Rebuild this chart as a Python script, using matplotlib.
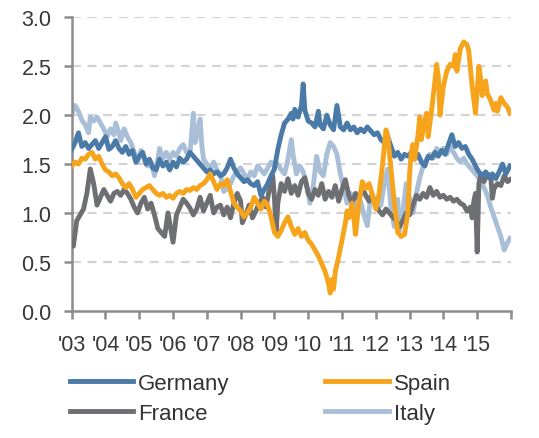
import matplotlib
matplotlib.use("Agg")
import matplotlib.pyplot as plt

plt.rcParams["font.family"] = ["Liberation Sans Narrow", "Liberation Sans", "DejaVu Sans"]

# values (time in fractional years)
germany_t = [2003.0, 2003.1, 2003.2, 2003.3, 2003.4, 2003.5, 2003.6, 2003.7, 2003.8, 2003.9,
             2004.0, 2004.1, 2004.2, 2004.3, 2004.4, 2004.5, 2004.6, 2004.7, 2004.8, 2004.9,
             2005.0, 2005.1, 2005.2, 2005.3, 2005.4, 2005.5, 2005.6, 2005.7, 2005.8, 2005.9,
             2006.0, 2006.1, 2006.2, 2006.3, 2006.4, 2006.5, 2006.6, 2006.7, 2006.8, 2006.9,
             2007.0, 2007.1, 2007.2, 2007.3, 2007.4, 2007.5, 2007.6, 2007.7, 2007.8, 2007.9,
             2008.0, 2008.1, 2008.2, 2008.3, 2008.4, 2008.5, 2008.6, 2008.7, 2008.8, 2008.9,
             2009.0, 2009.1, 2009.2, 2009.3, 2009.4, 2009.5, 2009.55, 2009.6, 2009.7, 2009.8,
             2009.85, 2009.9, 2010.0, 2010.1, 2010.2, 2010.3, 2010.35, 2010.45, 2010.55, 2010.65,
             2010.75, 2010.85, 2010.95, 2011.05, 2011.15, 2011.25, 2011.35, 2011.45, 2011.55, 2011.65,
             2011.75, 2011.85, 2011.95, 2012.05, 2012.15, 2012.25, 2012.35, 2012.45, 2012.55, 2012.65,
             2012.75, 2012.85, 2012.95, 2013.05, 2013.15, 2013.25, 2013.35, 2013.45, 2013.55, 2013.65,
             2013.75, 2013.85, 2013.95, 2014.05, 2014.15, 2014.25, 2014.35, 2014.45, 2014.55, 2014.65,
             2014.75, 2014.85, 2014.95, 2015.05, 2015.15, 2015.25, 2015.35, 2015.45, 2015.55, 2015.65,
             2015.75, 2015.85, 2015.97]
germany_v = [1.65, 1.72, 1.82, 1.68, 1.72, 1.66, 1.70, 1.74, 1.66, 1.72,
             1.78, 1.65, 1.68, 1.74, 1.66, 1.62, 1.68, 1.60, 1.64, 1.52,
             1.58, 1.62, 1.50, 1.55, 1.46, 1.44, 1.55, 1.48, 1.52, 1.44,
             1.52, 1.47, 1.56, 1.52, 1.55, 1.62, 1.58, 1.54, 1.50, 1.46,
             1.42, 1.44, 1.40, 1.42, 1.38, 1.40, 1.46, 1.55, 1.46, 1.40,
             1.36, 1.32, 1.34, 1.30, 1.28, 1.32, 1.18, 1.24, 1.30, 1.38,
             1.45, 1.65, 1.80, 1.92, 1.96, 2.02, 1.96, 2.06, 1.98, 2.10,
             2.32, 2.05, 1.94, 1.92, 1.88, 2.04, 1.90, 1.86, 2.00, 1.90,
             1.85, 2.10, 1.88, 1.85, 1.92, 1.85, 1.88, 1.82, 1.86, 1.83,
             1.88, 1.84, 1.80, 1.82, 1.75, 1.72, 1.78, 1.68, 1.58, 1.62,
             1.55, 1.60, 1.58, 1.62, 1.55, 1.60, 1.52, 1.48, 1.58, 1.56,
             1.62, 1.58, 1.64, 1.60, 1.70, 1.80, 1.68, 1.72, 1.66, 1.68,
             1.60, 1.55, 1.48, 1.42, 1.38, 1.42, 1.36, 1.40, 1.35, 1.42,
             1.50, 1.40, 1.48]

spain_t = [2003.0, 2003.1, 2003.2, 2003.3, 2003.4, 2003.5, 2003.6, 2003.7, 2003.8, 2003.9,
           2004.0, 2004.1, 2004.2, 2004.3, 2004.4, 2004.5, 2004.6, 2004.7, 2004.8, 2004.9,
           2005.0, 2005.1, 2005.2, 2005.3, 2005.4, 2005.5, 2005.6, 2005.7, 2005.8, 2005.9,
           2006.0, 2006.1, 2006.2, 2006.3, 2006.4, 2006.5, 2006.6, 2006.7, 2006.8, 2006.9,
           2007.0, 2007.1, 2007.2, 2007.3, 2007.4, 2007.5, 2007.6, 2007.7, 2007.8, 2007.9,
           2008.0, 2008.1, 2008.2, 2008.3, 2008.4, 2008.5, 2008.6, 2008.7, 2008.8, 2008.9,
           2009.0, 2009.1, 2009.2, 2009.3, 2009.4, 2009.5, 2009.6, 2009.7, 2009.8, 2009.9,
           2010.0, 2010.1, 2010.2, 2010.3, 2010.4, 2010.5, 2010.6, 2010.65, 2010.7, 2010.75,
           2010.8, 2010.9, 2011.0, 2011.1, 2011.15, 2011.2, 2011.3, 2011.35, 2011.4, 2011.5,
           2011.6, 2011.7, 2011.8, 2011.9, 2012.0, 2012.1, 2012.2, 2012.3, 2012.35, 2012.45,
           2012.55, 2012.65, 2012.75, 2012.85, 2012.95, 2013.0, 2013.05, 2013.1, 2013.15, 2013.25,
           2013.3, 2013.35, 2013.45, 2013.5, 2013.55, 2013.65, 2013.75, 2013.8, 2013.85, 2013.9,
           2014.0, 2014.1, 2014.2, 2014.3, 2014.35, 2014.4, 2014.5, 2014.6, 2014.7, 2014.75,
           2014.85, 2014.95, 2015.0, 2015.05, 2015.1, 2015.15, 2015.25, 2015.3, 2015.4, 2015.5,
           2015.55, 2015.6, 2015.7, 2015.8, 2015.9, 2015.97]
spain_v = [1.48, 1.52, 1.50, 1.56, 1.55, 1.60, 1.62, 1.55, 1.58, 1.50,
           1.44, 1.42, 1.38, 1.40, 1.36, 1.30, 1.26, 1.30, 1.24, 1.16,
           1.20, 1.24, 1.26, 1.28, 1.24, 1.20, 1.18, 1.20, 1.16, 1.18,
           1.15, 1.20, 1.22, 1.20, 1.24, 1.23, 1.26, 1.24, 1.28, 1.30,
           1.34, 1.40, 1.32, 1.24, 1.30, 1.28, 1.34, 1.22, 1.10, 1.06,
           1.02, 0.96, 1.00, 1.06, 1.16, 1.10, 1.04, 1.12, 1.08, 0.96,
           0.80, 0.76, 0.82, 0.90, 0.96, 0.86, 0.78, 0.84, 0.76, 0.80,
           0.72, 0.68, 0.62, 0.56, 0.48, 0.40, 0.28, 0.18, 0.32, 0.22,
           0.40, 0.55, 0.72, 0.90, 1.02, 0.95, 1.10, 0.95, 0.78, 1.10,
           1.32, 1.25, 1.30, 1.18, 1.04, 1.20, 1.50, 1.85, 1.80, 1.45,
           1.10, 0.80, 0.76, 0.78, 1.00, 1.40, 1.62, 1.70, 1.55, 1.80,
           1.98, 1.75, 1.95, 2.02, 1.78, 2.05, 2.35, 2.52, 2.40, 2.00,
           2.30, 2.45, 2.52, 2.50, 2.62, 2.45, 2.68, 2.75, 2.72, 2.66,
           2.30, 2.02, 2.25, 2.50, 2.38, 2.20, 2.35, 2.22, 2.15, 2.05,
           2.12, 2.04, 2.18, 2.12, 2.08, 2.02]

france_t = [2003.0, 2003.05, 2003.15, 2003.25, 2003.35, 2003.45, 2003.55, 2003.65, 2003.75, 2003.85,
            2003.95, 2004.05, 2004.15, 2004.25, 2004.35, 2004.45, 2004.55, 2004.65, 2004.75, 2004.85,
            2004.95, 2005.05, 2005.15, 2005.25, 2005.35, 2005.45, 2005.55, 2005.65, 2005.75, 2005.85,
            2005.95, 2006.0, 2006.1, 2006.2, 2006.3, 2006.4, 2006.5, 2006.6, 2006.7, 2006.8,
            2006.9, 2007.0, 2007.1, 2007.2, 2007.3, 2007.4, 2007.5, 2007.6, 2007.7, 2007.8,
            2007.9, 2008.0, 2008.05, 2008.15, 2008.25, 2008.35, 2008.45, 2008.55, 2008.65, 2008.75,
            2008.85, 2008.95, 2009.0, 2009.05, 2009.1, 2009.2, 2009.3, 2009.4, 2009.5, 2009.6,
            2009.7, 2009.8, 2009.9, 2010.0, 2010.1, 2010.2, 2010.3, 2010.4, 2010.5, 2010.6,
            2010.7, 2010.8, 2010.9, 2011.0, 2011.1, 2011.2, 2011.3, 2011.4, 2011.5, 2011.6,
            2011.7, 2011.8, 2011.9, 2012.0, 2012.1, 2012.2, 2012.3, 2012.4, 2012.5, 2012.6,
            2012.7, 2012.8, 2012.9, 2013.0, 2013.1, 2013.2, 2013.3, 2013.4, 2013.5, 2013.6,
            2013.7, 2013.8, 2013.9, 2014.0, 2014.1, 2014.2, 2014.3, 2014.4, 2014.5, 2014.6,
            2014.7, 2014.8, 2014.85, 2014.9, 2014.95, 2015.0, 2015.05, 2015.1, 2015.2, 2015.3,
            2015.4, 2015.45, 2015.5, 2015.6, 2015.7, 2015.8, 2015.9, 2015.97]
france_v = [0.70, 0.66, 0.92, 0.98, 1.04, 1.20, 1.45, 1.30, 1.08, 1.16,
            1.24, 1.18, 1.12, 1.20, 1.22, 1.18, 1.24, 1.20, 1.14, 1.06,
            1.00, 1.10, 1.16, 1.04, 1.10, 0.98, 0.84, 0.80, 0.76, 1.00,
            0.80, 0.70, 0.98, 1.06, 1.14, 1.10, 1.05, 0.98, 1.04, 1.16,
            1.02, 1.10, 1.18, 1.00, 1.06, 1.08, 0.98, 1.06, 0.95, 1.10,
            1.20, 1.12, 0.90, 0.98, 1.08, 0.95, 1.02, 1.10, 1.16, 1.06,
            1.24, 1.38, 1.15, 0.80, 1.10, 1.30, 1.22, 1.35, 1.20, 1.28,
            1.18, 1.32, 1.36, 1.20, 1.14, 1.24, 1.18, 1.30, 1.14, 1.22,
            1.16, 1.28, 1.12, 1.24, 1.34, 1.18, 1.10, 1.20, 1.14, 1.26,
            1.18, 1.12, 1.18, 1.08, 1.02, 0.98, 1.04, 1.00, 0.96, 0.92,
            0.86, 0.92, 1.00, 0.98, 1.08, 1.18, 1.14, 1.20, 1.16, 1.26,
            1.18, 1.22, 1.16, 1.18, 1.14, 1.16, 1.12, 1.14, 1.10, 1.08,
            1.02, 1.06, 0.95, 1.12, 1.20, 0.60, 1.30, 1.38, 1.32, 1.40,
            1.38, 1.15, 1.25, 1.30, 1.28, 1.38, 1.32, 1.34]

italy_t = [2003.0, 2003.05, 2003.1, 2003.2, 2003.3, 2003.4, 2003.5, 2003.55, 2003.65, 2003.75,
           2003.85, 2003.95, 2004.05, 2004.15, 2004.25, 2004.3, 2004.4, 2004.45, 2004.55, 2004.65,
           2004.75, 2004.85, 2004.95, 2005.05, 2005.15, 2005.25, 2005.35, 2005.45, 2005.55, 2005.6,
           2005.7, 2005.8, 2005.9, 2006.0, 2006.1, 2006.2, 2006.3, 2006.4, 2006.5, 2006.6,
           2006.65, 2006.7, 2006.8, 2006.85, 2006.9, 2007.0, 2007.1, 2007.2, 2007.3, 2007.4,
           2007.5, 2007.6, 2007.7, 2007.8, 2007.9, 2008.0, 2008.1, 2008.2, 2008.3, 2008.4,
           2008.5, 2008.6, 2008.7, 2008.8, 2008.9, 2009.0, 2009.1, 2009.2, 2009.3, 2009.4,
           2009.5, 2009.55, 2009.65, 2009.75, 2009.85, 2009.95, 2010.05, 2010.15, 2010.25, 2010.35,
           2010.45, 2010.55, 2010.65, 2010.75, 2010.85, 2010.95, 2011.05, 2011.15, 2011.25, 2011.35,
           2011.45, 2011.55, 2011.65, 2011.75, 2011.85, 2011.95, 2012.05, 2012.15, 2012.25, 2012.35,
           2012.45, 2012.55, 2012.6, 2012.65, 2012.7, 2012.8, 2012.9, 2013.0, 2013.1, 2013.2,
           2013.3, 2013.4, 2013.5, 2013.6, 2013.7, 2013.8, 2013.9, 2014.0, 2014.1, 2014.2,
           2014.3, 2014.4, 2014.5, 2014.6, 2014.7, 2014.8, 2014.9, 2015.0, 2015.1, 2015.2,
           2015.3, 2015.4, 2015.5, 2015.6, 2015.7, 2015.8, 2015.9, 2015.97]
italy_v = [2.00, 2.06, 2.10, 2.04, 1.95, 1.90, 1.82, 1.98, 1.94, 1.98,
           1.92, 1.86, 1.78, 1.86, 1.80, 1.92, 1.82, 1.74, 1.86, 1.78,
           1.72, 1.62, 1.52, 1.64, 1.56, 1.48, 1.52, 1.38, 1.55, 1.66,
           1.56, 1.62, 1.55, 1.62, 1.58, 1.66, 1.70, 1.62, 1.60, 2.02,
           1.72, 1.78, 1.96, 1.70, 1.55, 1.50, 1.46, 1.52, 1.44, 1.40,
           1.22, 1.25, 1.30, 1.38, 1.42, 1.46, 1.40, 1.34, 1.42, 1.38,
           1.48, 1.44, 1.40, 1.46, 1.52, 1.48, 1.50, 1.44, 1.40, 1.55,
           1.75, 1.60, 1.40, 1.48, 1.42, 1.30, 1.10, 1.28, 1.58, 1.42,
           1.38, 1.60, 1.72, 1.68, 1.60, 1.40, 1.25, 1.10, 1.20, 1.14,
           1.00, 1.12, 0.98, 0.87, 1.18, 1.12, 1.06, 1.08, 1.30, 1.45,
           1.05, 0.86, 1.10, 1.14, 0.82, 1.00, 1.30, 1.15, 1.00, 1.20,
           1.36, 1.48, 1.55, 1.60, 1.56, 1.66, 1.62, 1.66, 1.60, 1.68,
           1.62, 1.56, 1.52, 1.56, 1.50, 1.46, 1.42, 1.38, 1.34, 1.26,
           1.18, 1.06, 0.96, 0.86, 0.76, 0.62, 0.70, 0.74]

year_ticks = list(range(2003, 2017))
year_labels = ["'03", "'04", "'05", "'06", "'07", "'08", "'09", "'10",
               "'11", "'12", "'13", "'14", "'15", ""]
y_ticks = [0.0, 0.5, 1.0, 1.5, 2.0, 2.5, 3.0]

colors = {
    "Germany": "#4a7aa8",
    "Spain": "#f7a41d",
    "France": "#6e6f73",
    "Italy": "#a9bfd8",
}

fig = plt.figure(figsize=(5.39, 4.39), dpi=100)
ax = fig.add_axes([0.133, 0.29, 0.815, 0.668])

for y in y_ticks[1:]:
    ax.axhline(y, color="#d4d4d4", linewidth=1.6, linestyle=(0, (4, 3)), zorder=0)

lw = 3.5
l_it, = ax.plot(italy_t, italy_v, color=colors["Italy"], lw=lw, label="Italy", zorder=2)
l_fr, = ax.plot(france_t, france_v, color=colors["France"], lw=lw, label="France", zorder=3)
l_de, = ax.plot(germany_t, germany_v, color=colors["Germany"], lw=lw, label="Germany", zorder=4)
l_es, = ax.plot(spain_t, spain_v, color=colors["Spain"], lw=lw, label="Spain", zorder=5)

ax.set_xlim(2003, 2016)
ax.set_ylim(0, 3.0)
ax.set_xticks(year_ticks)
ax.set_xticklabels(year_labels)
ax.set_yticks(y_ticks)
ax.set_yticklabels([f"{v:.1f}" for v in y_ticks])

for side in ["top", "right"]:
    ax.spines[side].set_visible(False)
for side in ["left", "bottom"]:
    ax.spines[side].set_color("#8c8c8c")
    ax.spines[side].set_linewidth(1.8)

ax.tick_params(axis="both", colors="#8c8c8c", width=1.8, length=5.5, labelsize=15.5,
               labelcolor="#383838")
ax.tick_params(axis="x", pad=11)
ax.tick_params(axis="y", pad=9)

fig.legend(handles=[l_de, l_fr, l_es, l_it], labels=["Germany", "France", "Spain", "Italy"],
           ncol=2, loc="upper left", bbox_to_anchor=(0.13, 0.148), frameon=False,
           fontsize=16, handlelength=2.85, handletextpad=0.22, columnspacing=4.3,
           labelspacing=0.4, borderaxespad=0, borderpad=0, labelcolor="#333333")

fig.savefig("out.png", dpi=100)
